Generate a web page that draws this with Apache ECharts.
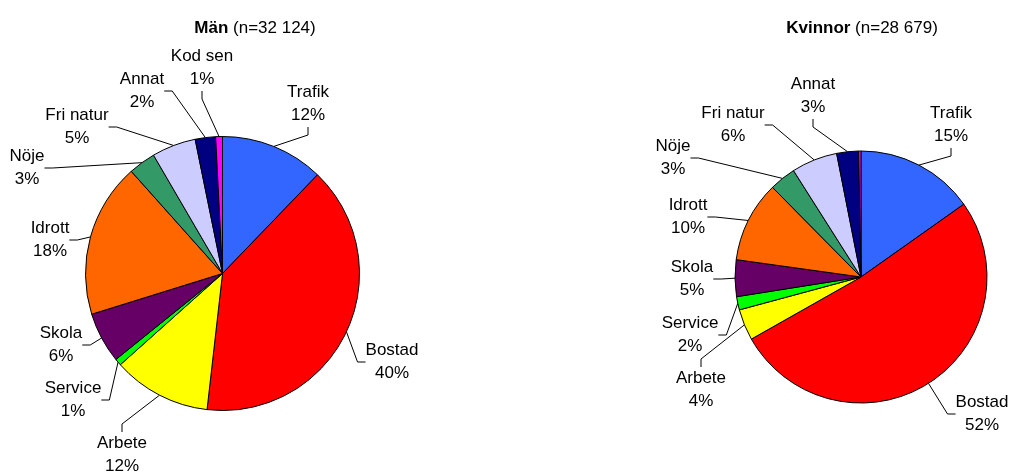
<!DOCTYPE html>
<html>
<head>
<meta charset="utf-8">
<script src="https://cdn.jsdelivr.net/npm/echarts@6/dist/echarts.min.js"></script>
<style>html,body{margin:0;padding:0;background:#fff}#c{width:1009px;height:472px}</style>
</head>
<body>
<div id="c"></div>
<script>
// ---- data ----
var categories = ['Trafik','Bostad','Arbete','Service','Skola','Idrott','Nöje','Fri natur','Annat','Kod sen'];
var menValues   = [12.2, 39.6, 11.6, 0.8, 6.0, 18.2, 3.2, 5.2, 2.4, 0.8];
var womenValues = [15.2, 51.6, 4.0, 1.7, 4.7, 10.4, 3.4, 5.9, 2.8, 0.3];
var menTitle = ['Män', ' (n=32 124)'];
var womenTitle = ['Kvinnor', ' (n=28 679)'];

// ---- styling ----
var colors = ['#3366FF','#FF0000','#FFFF00','#00FF00','#660066','#FF6600','#339966','#CCCCFF','#000080','#FF00FF'];
// label block centres (layout only)
var menLabelPos = [[308,104],[392,362],[122,455],[73,400],[61,345],[50,240],[27,168],[77,127],[142,91],[202,68]];
var womenLabelPos = [[951,125],[982,414],[701,390],[690,335],[692,279],[688,217],[673,158],[733,125],[813,96],[861,90]];

var FONT = '"Liberation Sans", Arial, sans-serif';
var FS = 17;

function buildData(vals) {
  return categories.map(function (c, i) {
    var item = { name: c, value: vals[i], itemStyle: { color: colors[i] } };
    if (Math.round(vals[i]) === 0) { item.label = { show: false }; item.labelLine = { show: false }; }
    return item;
  });
}

function pieSeries(vals, center, radius, pos) {
  return {
    type: 'pie',
    center: center,
    radius: radius,
    startAngle: 90,
    clockwise: true,
    avoidLabelOverlap: false,
    animation: false,
    data: buildData(vals),
    itemStyle: { borderColor: '#000', borderWidth: 1 },
    emphasis: { disabled: true },
    label: {
      show: true,
      position: 'outside',
      color: '#000',
      fontFamily: FONT,
      fontSize: FS,
      lineHeight: 23,
      align: 'center',
      formatter: function (p) { return p.name + '\n' + Math.round(p.value) + '%'; }
    },
    labelLine: { show: true, length: 10, length2: 8, smooth: false, lineStyle: { color: '#000', width: 1 } },
    labelLayout: function (p) {
      var q = pos[p.dataIndex];
      return { x: q[0], y: q[1], align: 'center', verticalAlign: 'middle' };
    }
  };
}

var chart = echarts.init(document.getElementById('c'), null, { renderer: 'canvas' });
chart.setOption({
  backgroundColor: '#fff',
  animation: false,
  title: [
    { text: '{b|' + menTitle[0] + '}' + menTitle[1], left: 250, top: 15, textAlign: 'center',
      textStyle: { fontFamily: FONT, fontSize: FS, fontWeight: 'normal', color: '#000',
        rich: { b: { fontFamily: FONT, fontSize: FS, fontWeight: 'bold', color: '#000' } } } },
    { text: '{b|' + womenTitle[0] + '}' + womenTitle[1], left: 857, top: 15, textAlign: 'center',
      textStyle: { fontFamily: FONT, fontSize: FS, fontWeight: 'normal', color: '#000',
        rich: { b: { fontFamily: FONT, fontSize: FS, fontWeight: 'bold', color: '#000' } } } }
  ],
  series: [
    pieSeries(menValues, [222.5, 273.5], 137, menLabelPos),
    pieSeries(womenValues, [861, 277], 126, womenLabelPos)
  ]
});
</script>
</body>
</html>
